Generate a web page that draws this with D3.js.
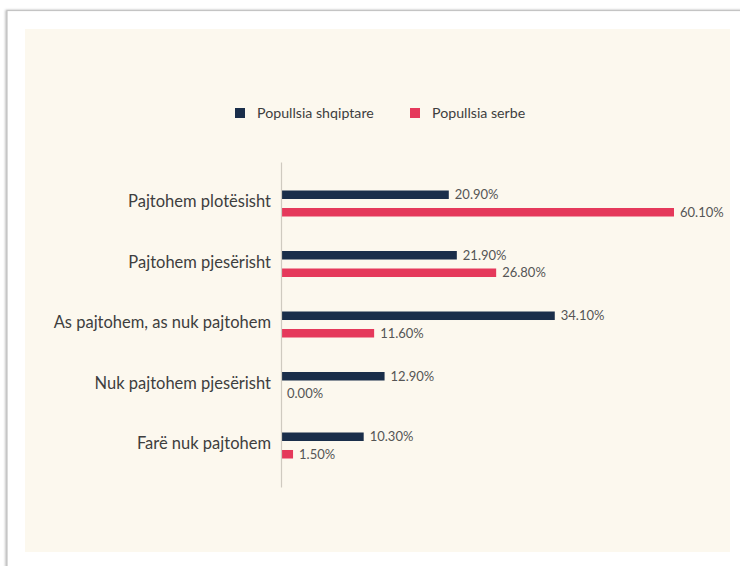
<!DOCTYPE html>
<html>
<head>
<meta charset="utf-8">
<script src="https://cdn.jsdelivr.net/npm/d3@7"></script>
<style>
  html, body { margin: 0; padding: 0; background: #ffffff; }
  svg { display: block; }
</style>
</head>
<body>
<svg id="chart" width="740" height="566"></svg>
<script>
const categories = [
  "Pajtohem plotësisht",
  "Pajtohem pjesërisht",
  "As pajtohem, as nuk pajtohem",
  "Nuk pajtohem pjesërisht",
  "Farë nuk pajtohem"
];
const seriesNames = ["Popullsia shqiptare", "Popullsia serbe"];
const albanianValues = [20.9, 21.9, 34.1, 12.9, 10.3];
const serbianValues = [60.1, 26.8, 11.6, 0.0, 1.5];
const seriesColors = ["#1a2e4a", "#e5395b"];

const rows = categories.map((c, i) => ({
  category: c,
  values: [
    { series: seriesNames[0], value: albanianValues[i] },
    { series: seriesNames[1], value: serbianValues[i] }
  ]
}));

const svg = d3.select("#chart");

// frame and panel
const defs = svg.append("defs");
const f = defs.append("filter").attr("id", "sh").attr("x", "-5%").attr("y", "-5%").attr("width", "110%").attr("height", "110%");
f.append("feDropShadow").attr("dx", -1).attr("dy", 0).attr("stdDeviation", 1.2).attr("flood-color", "#888").attr("flood-opacity", 0.6);

svg.append("rect")
  .attr("x", 7).attr("y", 10.5).attr("width", 760).attr("height", 580)
  .attr("fill", "#ffffff").attr("stroke", "#c4c4c4").attr("stroke-width", 1.2)
  .attr("filter", "url(#sh)");

svg.append("rect")
  .attr("x", 25).attr("y", 29).attr("width", 705).attr("height", 523)
  .attr("fill", "#fcf8ee");

// scales
const x = d3.scaleLinear()
  .domain([0, 35, d3.max(serbianValues)])
  .range([281, 562, 674]);

const y = d3.scaleBand()
  .domain(categories)
  .range([162, 487])
  .paddingInner(0)
  .paddingOuter(0.186);

const yInner = d3.scaleBand()
  .domain(seriesNames)
  .range([0, 26])
  .paddingInner(0.514)
  .paddingOuter(0);

const color = d3.scaleOrdinal().domain(seriesNames).range(seriesColors);

const font = "Lato, 'Noto Sans', sans-serif";

// groups of bars
const groupOffset = (y.bandwidth() - 26) / 2;
const groups = svg.append("g").selectAll("g")
  .data(rows)
  .join("g")
  .attr("transform", d => `translate(0,${y(d.category) + groupOffset})`);

groups.selectAll("rect")
  .data(d => d.values)
  .join("rect")
  .attr("x", x(0))
  .attr("y", d => yInner(d.series))
  .attr("width", d => Math.max(0, x(d.value) - x(0)))
  .attr("height", yInner.bandwidth())
  .attr("fill", d => color(d.series));

groups.selectAll("text")
  .data(d => d.values)
  .join("text")
  .attr("x", d => x(d.value) + 6)
  .attr("y", d => yInner(d.series) + yInner.bandwidth() / 2)
  .attr("dy", "0.36em")
  .attr("font-family", font)
  .attr("font-size", 13)
  .attr("fill", "#555")
  .text(d => d.value.toFixed(2) + "%");

// axis
const yAxis = d3.axisLeft(y).tickSize(0).tickSizeOuter(0).tickPadding(10);
const axisG = svg.append("g")
  .attr("transform", `translate(${x(0)},0)`)
  .call(yAxis);
axisG.select(".domain").attr("stroke", "#cfcac0").attr("stroke-width", 1.2);
axisG.selectAll(".tick text")
  .attr("font-family", font)
  .attr("font-size", 16.5)
  .attr("fill", "#3e3e3e")
  .attr("dy", "0.3em")
  .attr("y", -1);

// legend
const legendX = [235, 410];
const legend = svg.append("g").selectAll("g")
  .data(seriesNames)
  .join("g")
  .attr("transform", (d, i) => `translate(${legendX[i]},108)`);
legend.append("rect")
  .attr("width", 10).attr("height", 10)
  .attr("fill", d => color(d));
legend.append("text")
  .attr("x", 22).attr("y", 5)
  .attr("dy", "0.35em")
  .attr("font-family", font)
  .attr("font-size", 14.2)
  .attr("fill", "#3e3e3e")
  .text(d => d);
</script>
</body>
</html>
